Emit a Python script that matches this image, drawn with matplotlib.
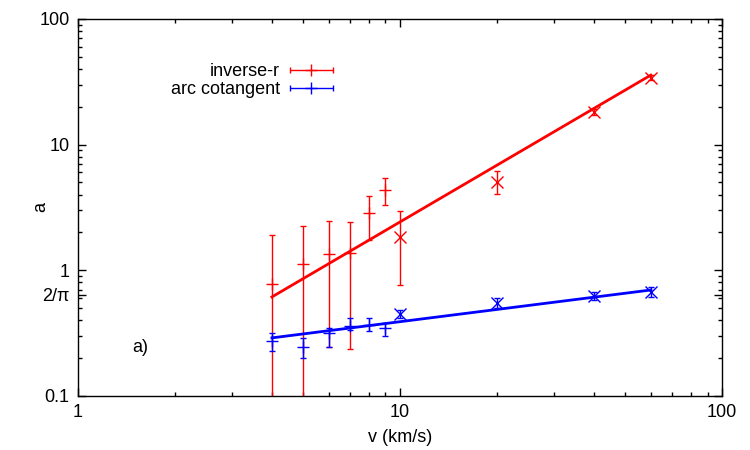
import numpy as np
import matplotlib.pyplot as plt
from matplotlib.legend_handler import HandlerErrorbar

plt.rcParams['font.family'] = ['Liberation Sans', 'DejaVu Sans']

# inverse-r, points drawn with '+'
v_plus = [4, 5, 6, 7, 8, 9]
r_plus = [0.78, 1.12, 1.36, 1.38, 2.86, 4.35]
r_plus_lo = [0.05, 0.05, 0.245, 0.236, 1.74, 3.3]
r_plus_hi = [1.9, 2.25, 2.45, 2.42, 3.9, 5.4]

# inverse-r, points drawn with 'x'
v_cross = [10, 20, 40, 60]
r_cross = [1.84, 5.03, 18.2, 33.9]
r_cross_lo = [0.76, 4.05, 17.3, 32.4]
r_cross_hi = [2.96, 6.17, 19.2, 35.5]

# arc cotangent
b_plus = [0.274, 0.245, 0.317, 0.36, 0.367, 0.347]
b_plus_lo = [0.228, 0.2, 0.245, 0.335, 0.33, 0.30]
b_plus_hi = [0.317, 0.29, 0.347, 0.418, 0.417, 0.381]
b_cross = [0.449, 0.55, 0.625, 0.672]
b_cross_lo = [0.42, 0.50, 0.58, 0.61]
b_cross_hi = [0.48, 0.60, 0.67, 0.735]

# fitted lines (end points)
fit_v = [4, 60]
fit_r = [0.614, 35.7]
fit_b = [0.29, 0.697]

fig = plt.figure(figsize=(7.5, 4.5), dpi=100)
ax = fig.add_axes([0.104, 0.12, 0.859, 0.838])

def errs(y, lo, hi):
    y = np.array(y)
    return [y - np.array(lo), np.array(hi) - y]

ekw = dict(capsize=2.5, elinewidth=1, capthick=1, linestyle='none', markeredgewidth=1)

ax.errorbar(v_plus, r_plus, yerr=errs(r_plus, r_plus_lo, r_plus_hi), fmt='+', color='red', markersize=9, **ekw)
ax.errorbar(v_cross, r_cross, yerr=errs(r_cross, r_cross_lo, r_cross_hi), fmt='x', color='red', markersize=9, **ekw)
ax.errorbar(v_plus, b_plus, yerr=errs(b_plus, b_plus_lo, b_plus_hi), fmt='+', color='blue', markersize=9, **ekw)
ax.errorbar(v_cross, b_cross, yerr=errs(b_cross, b_cross_lo, b_cross_hi), fmt='x', color='blue', markersize=9, **ekw)

ax.plot(fit_v, fit_r, color='red', lw=2)
ax.plot(fit_v, fit_b, color='blue', lw=2)

# legend proxies (horizontal bars like gnuplot)
h1 = ax.errorbar([np.nan], [np.nan], xerr=[1], fmt='+', color='red', markersize=9, **ekw)
h2 = ax.errorbar([np.nan], [np.nan], xerr=[1], fmt='+', color='blue', markersize=9, **ekw)
fs = 13
hl = 2.4
ax.legend([h1, h2], ['inverse-r', 'arc cotangent'], frameon=False, markerfirst=False,
          handlelength=hl, handletextpad=0.55, labelspacing=0.05, fontsize=fs,
          borderpad=0, borderaxespad=0,
          loc='upper right', bbox_to_anchor=(0.396, 0.882),
          handler_map={type(h1): HandlerErrorbar(xerr_size=hl / 2)})

ax.text(1.56, 0.241, 'a)', fontsize=fs, ha='center', va='center')

ax.set_xscale('log')
ax.set_yscale('log')
ax.set_xlim(1, 100)
ax.set_ylim(0.1, 100)
ax.set_xticks([1, 10, 100])
ax.set_xticklabels(['1', '10', '100'])
ax.set_yticks([0.1, 1, 2 / np.pi, 10, 100])
ax.set_yticklabels(['0.1', '1', '2/π', '10', '100'])
ax.tick_params(which='both', direction='in', top=True, right=True, labelsize=fs)
ax.tick_params(axis='x', which='major', pad=6)
ax.tick_params(axis='y', which='major', pad=6)
ax.tick_params(which='major', length=6, width=1)
ax.tick_params(which='minor', length=3, width=1)
for s in ax.spines.values():
    s.set_linewidth(1)

ax.set_xlabel('v (km/s)', fontsize=fs)
ax.set_ylabel('a', fontsize=fs)
ax.xaxis.set_label_coords(0.5, -0.087)
ax.yaxis.set_label_coords(-0.045, 0.5)

fig.savefig('out.png', dpi=100)
